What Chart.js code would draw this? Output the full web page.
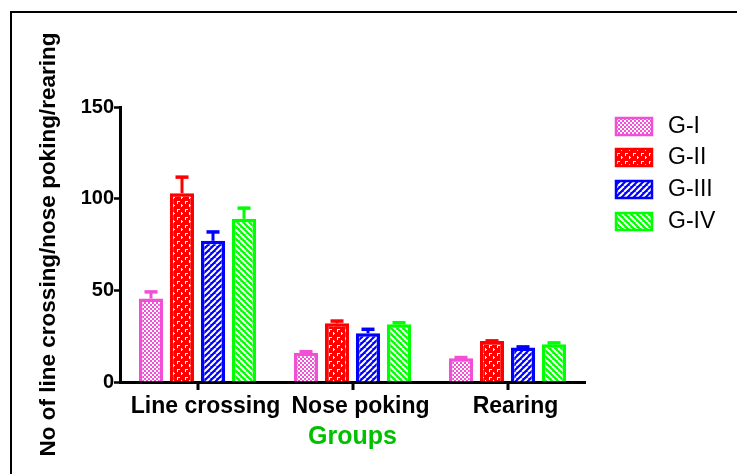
<!DOCTYPE html>
<html>
<head>
<meta charset="utf-8">
<script src="https://cdn.jsdelivr.net/npm/chart.js@4.4.1/dist/chart.umd.min.js"></script>
<style>
  html, body { margin: 0; padding: 0; background: #fff; }
  #wrap { width: 737px; height: 474px; }
</style>
</head>
<body>
<div id="wrap"><canvas id="c" width="737" height="474"></canvas></div>
<script>
// Behavioural counts per test, mean and SEM for each group
const categories = ['Line crossing', 'Nose poking', 'Rearing'];
const groupNames = ['G-I', 'G-II', 'G-III', 'G-IV'];
const gI   = [45.5, 16.0, 13.0];
const gII  = [103.0, 32.0, 22.4];
const gIII = [77.0, 26.6, 18.8];
const gIV  = [89.0, 31.5, 20.6];
const semI   = [4.6, 1.5, 1.3];
const semII  = [9.7, 2.2, 1.0];
const semIII = [5.8, 3.1, 1.3];
const semIV  = [6.8, 1.8, 1.7];
const yTicks = [0, 50, 100, 150];

const FONT = "Arial, 'Liberation Sans', sans-serif";
const colors = ['#f04fd6', '#ff0000', '#0000ff', '#00ff00'];

// Small tiled fills: checker, dashed brick, forward and back hatching
function makePattern(kind, color) {
  const size = kind === 'brick' ? 8 : (kind === 'checker' ? 4 : 6);
  const cv = document.createElement('canvas');
  cv.width = size; cv.height = size;
  const g = cv.getContext('2d');
  g.fillStyle = color;
  g.fillRect(0, 0, size, size);
  g.fillStyle = '#fff';
  if (kind === 'checker') {
    g.fillRect(0, 0, 2, 2);
    g.fillRect(2, 2, 2, 2);
  } else if (kind === 'brick') {
    g.fillRect(1, 1, 3, 1);
    g.fillRect(1, 1, 1, 3);
    g.fillRect(5, 4, 1, 3);
    g.fillRect(5, 5, 2, 1);
  } else {
    g.strokeStyle = '#fff';
    g.lineWidth = 2;
    g.beginPath();
    for (let k = -1; k <= 1; k++) {
      if (kind === 'fwd') {
        g.moveTo(k * size, size); g.lineTo(k * size + size, 0);
      } else {
        g.moveTo(k * size, 0); g.lineTo(k * size + size, size);
      }
    }
    g.stroke();
  }
  return g.createPattern(cv, 'repeat');
}

const ctx = document.getElementById('c').getContext('2d');
const kinds = ['checker', 'brick', 'fwd', 'back'];
const patterns = kinds.map((k, i) => makePattern(k, colors[i]));
const values = [gI, gII, gIII, gIV];
const sems = [semI, semII, semIII, semIV];

const datasets = groupNames.map((name, i) => ({
  label: name,
  data: values[i],
  sem: sems[i],
  backgroundColor: patterns[i],
  borderColor: colors[i],
  borderWidth: 3.5,
  borderSkipped: 'start',
  categoryPercentage: 0.8,
  barPercentage: 0.78
}));

// Page frame: heavy black lines along the top and left
const framePlugin = {
  id: 'frame',
  beforeDraw(chart) {
    const c = chart.ctx;
    c.save();
    c.fillStyle = '#fff';
    c.fillRect(0, 0, chart.width, chart.height);
    c.strokeStyle = '#000';
    c.lineWidth = 2;
    c.beginPath();
    c.moveTo(11, 474);
    c.lineTo(11, 12);
    c.lineTo(737, 12);
    c.stroke();
    c.restore();
  }
};

// Tick marks below the category axis, one under each group centre
const categoryTickPlugin = {
  id: 'categoryTicks',
  afterDraw(chart) {
    const c = chart.ctx;
    const xs = chart.scales.x;
    const y0 = chart.chartArea.bottom;
    c.save();
    c.strokeStyle = '#000';
    c.lineWidth = 3;
    c.beginPath();
    for (let i = 0; i < categories.length; i++) {
      const x = Math.round(xs.getPixelForTick(i));
      c.moveTo(x, y0);
      c.lineTo(x, y0 + 8);
    }
    c.stroke();
    c.restore();
  }
};

// Upper SEM whiskers with caps
const errorBarPlugin = {
  id: 'errorBars',
  afterDatasetsDraw(chart) {
    const c = chart.ctx;
    const yScale = chart.scales.y;
    chart.data.datasets.forEach((ds, di) => {
      const meta = chart.getDatasetMeta(di);
      meta.data.forEach((bar, j) => {
        const top = yScale.getPixelForValue(ds.data[j] + ds.sem[j]);
        c.save();
        c.strokeStyle = ds.borderColor;
        c.lineWidth = 3;
        c.beginPath();
        c.moveTo(bar.x, bar.y);
        c.lineTo(bar.x, top + 1.5);
        c.stroke();
        c.lineWidth = 3.5;
        c.beginPath();
        c.moveTo(bar.x - 6.5, top + 1.75);
        c.lineTo(bar.x + 6.5, top + 1.75);
        c.stroke();
        c.restore();
      });
    });
  }
};

// Legend on the right with patterned swatches
const legendPlugin = {
  id: 'sideLegend',
  afterDraw(chart) {
    const c = chart.ctx;
    const rowsY = [126, 157, 189, 221];
    chart.data.datasets.forEach((ds, i) => {
      const y = rowsY[i];
      c.save();
      c.fillStyle = ds.backgroundColor;
      c.fillRect(616, y - 8, 36, 17);
      c.strokeStyle = ds.borderColor;
      c.lineWidth = 2.5;
      c.strokeRect(616, y - 8, 36, 17);
      c.fillStyle = '#000';
      c.font = '23px ' + FONT;
      c.textAlign = 'left';
      c.textBaseline = 'middle';
      c.fillText(ds.label, 668, y + 1);
      c.restore();
    });
  }
};

new Chart(ctx, {
  type: 'bar',
  data: { labels: categories, datasets },
  plugins: [framePlugin, categoryTickPlugin, errorBarPlugin, legendPlugin],
  options: {
    responsive: false,
    animation: false,
    devicePixelRatio: 1,
    layout: { padding: { left: 35, top: 107, right: 152, bottom: 22 } },
    plugins: {
      legend: { display: false },
      tooltip: { enabled: false }
    },
    scales: {
      x: {
        type: 'category',
        offset: true,
        grid: {
          display: true,
          offset: false,
          drawOnChartArea: false,
          drawTicks: true,
          tickLength: 8,
          tickColor: 'rgba(0,0,0,0)',
          color: 'rgba(0,0,0,0)'
        },
        border: { display: true, color: '#000', width: 3 },
        ticks: {
          color: '#000',
          font: { family: FONT, size: 23, weight: 'bold' },
          padding: 3,
          labelOffset: 8,
          maxRotation: 0,
          autoSkip: false
        },
        title: {
          display: true,
          text: 'Groups',
          color: '#00c000',
          font: { family: FONT, size: 25, weight: 'bold' },
          padding: { top: 0, bottom: 0 }
        },
        afterFit(scale) { scale.height = 70; }
      },
      y: {
        min: 0,
        max: 150,
        afterBuildTicks(scale) { scale.ticks = yTicks.map(v => ({ value: v })); },
        grid: {
          display: true,
          drawOnChartArea: false,
          drawTicks: true,
          tickLength: 6,
          tickColor: '#000',
          tickWidth: 2.5,
          color: '#000'
        },
        border: { display: true, color: '#000', width: 3 },
        ticks: {
          color: '#000',
          font: { family: FONT, size: 20, weight: 'bold' },
          padding: 0
        },
        title: {
          display: true,
          text: 'No of line crossing/nose poking/rearing',
          color: '#000',
          font: { family: FONT, size: 22.5, weight: 'bold' },
          padding: { top: 0, bottom: 0 }
        },
        afterFit(scale) { scale.width = 85; }
      }
    }
  }
});
</script>
</body>
</html>
